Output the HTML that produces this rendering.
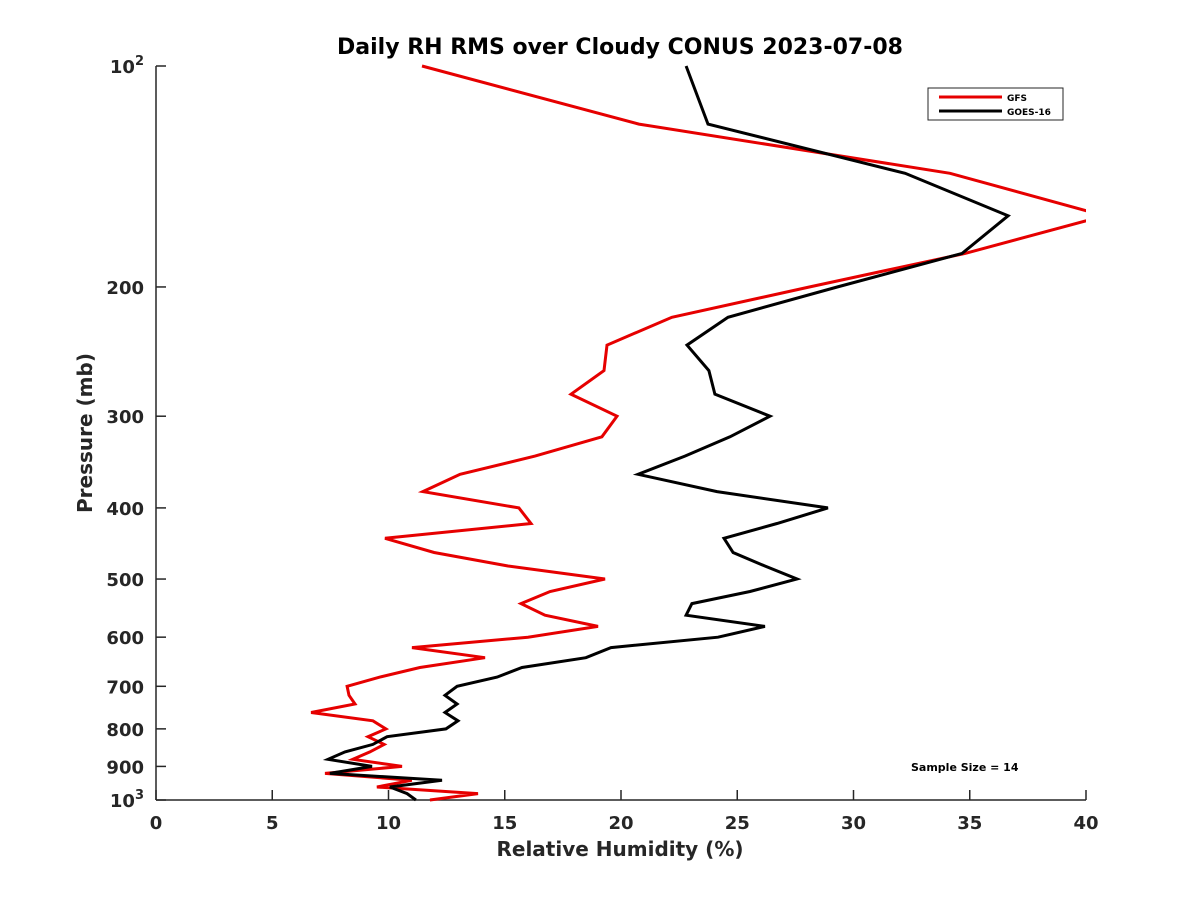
<!DOCTYPE html>
<html><head><meta charset="utf-8"><style>
body{margin:0;background:#fff;}
svg text{font-family:"DejaVu Sans","Liberation Sans",sans-serif;font-weight:bold;fill:#262626;}
</style></head><body>
<svg id="chart" width="1200" height="900" xmlns="http://www.w3.org/2000/svg">
<defs><clipPath id="plotclip"><rect x="156" y="60" width="930" height="745"/></clipPath></defs>
<text x="620" y="54" text-anchor="middle" font-size="22" style="fill:#000">Daily RH RMS over Cloudy CONUS 2023-07-08</text>
<g id="axes"></g>
<g id="series" clip-path="url(#plotclip)"></g>
<text x="620" y="856" text-anchor="middle" font-size="20">Relative Humidity (%)</text>
<text transform="translate(92,433) rotate(-90)" text-anchor="middle" font-size="20">Pressure (mb)</text>
<g>
<rect x="928" y="88" width="135" height="32" fill="#fff" stroke="#262626" stroke-width="1"/>
<line x1="939" y1="97" x2="1002" y2="97" stroke="#e60000" stroke-width="3"/>
<text x="1007" y="101" font-size="9" style="fill:#000">GFS</text>
<line x1="939" y1="111" x2="1002" y2="111" stroke="#000" stroke-width="3"/>
<text x="1007" y="115" font-size="9" style="fill:#000">GOES-16</text>
</g>
<text x="911" y="771" font-size="11" style="fill:#000">Sample Size = 14</text>
</svg>
<script>
const pressureLevels=[100,120,140,160,180,200,220,240,260,280,300,320,340,360,380,400,420,440,460,480,500,520,540,560,580,600,620,640,660,680,700,720,740,760,780,800,820,840,860,880,900,920,940,960,980,1000];
const gfsValues=[11.44,20.77,34.15,40.8,34.8,28.1,22.19,19.4,19.27,17.85,19.83,19.18,16.3,13.08,11.48,15.61,16.13,9.85,11.96,15.14,19.31,16.95,15.7,16.73,19.01,16.0,11.01,14.15,11.35,9.63,8.22,8.3,8.56,6.67,9.33,9.89,9.12,9.81,9.2,8.47,10.58,7.27,11.0,9.5,13.85,11.78];
const goesValues=[22.8,23.74,32.22,36.65,34.67,29.3,24.6,22.84,23.78,24.04,26.41,24.69,22.75,20.73,24.13,28.9,26.71,24.43,24.82,26.19,27.57,25.55,23.05,22.8,26.19,24.17,19.57,18.49,15.74,14.67,12.95,12.43,12.95,12.43,12.99,12.47,9.94,9.33,8.13,7.4,9.29,7.48,12.3,10.06,10.8,11.18];
const xTicks=[0,5,10,15,20,25,30,35,40];
const yTicks=[100,200,300,400,500,600,700,800,900,1000];
const yTickLabels=["10|2","200","300","400","500","600","700","800","900","10|3"];
const X0=156,X1=1086,Y0=66,Y1=800,XMIN=0,XMAX=40;
function xs(v){return X0+(v-XMIN)/(XMAX-XMIN)*(X1-X0);}
function ys(p){return Y0+(Math.log10(p)-2)*(Y1-Y0);}
const NS="http://www.w3.org/2000/svg";
function mk(t,a){const e=document.createElementNS(NS,t);for(const k in a)e.setAttribute(k,a[k]);return e;}
const axes=document.getElementById('axes');
let l=mk('line',{x1:X0,y1:Y0,x2:X0,y2:Y1,stroke:'#262626','stroke-width':1.5});


axes.appendChild(l);
l=mk('line',{x1:X0,y1:Y1,x2:X1,y2:Y1,stroke:'#262626','stroke-width':1.5});


axes.appendChild(l);
xTicks.forEach(v=>{
 const t=mk('line',{x1:xs(v),y1:Y1,x2:xs(v),y2:Y1-10,stroke:'#262626','stroke-width':1.5});
 
 
 axes.appendChild(t);
 const tx=mk('text',{x:xs(v),y:Y1+29,'text-anchor':'middle','font-size':18});
 
 
 tx.textContent=String(v);axes.appendChild(tx);
});
yTicks.forEach((v,i)=>{
 const t=mk('line',{x1:X0,y1:ys(v),x2:X0+10,y2:ys(v),stroke:'#262626','stroke-width':1.5});
 
 
 axes.appendChild(t);
 const lab=yTickLabels[i];
 const tx=mk('text',{x:X0-12,y:ys(v)+7,'text-anchor':'end','font-size':18});
 
 
 if(lab.indexOf('|')>=0){
  const parts=lab.split('|');
  const b=mk('tspan',{});b.textContent=parts[0];tx.appendChild(b);
  const s=mk('tspan',{dy:-8,'font-size':13});s.textContent=parts[1];tx.appendChild(s);
 } else tx.textContent=lab;
 axes.appendChild(tx);
});
const sg=document.getElementById('series');
function draw(vals,color,name){
 const pts=vals.map((v,i)=>xs(v).toFixed(1)+','+ys(pressureLevels[i]).toFixed(1)).join(' ');
 const pl=mk('polyline',{points:pts,fill:'none',stroke:color,'stroke-width':3,'stroke-linejoin':'miter'});
 
 
 sg.appendChild(pl);
}
draw(gfsValues,'#e60000','gfs-line');
draw(goesValues,'#000000','goes16-line');
</script>
</body></html>
